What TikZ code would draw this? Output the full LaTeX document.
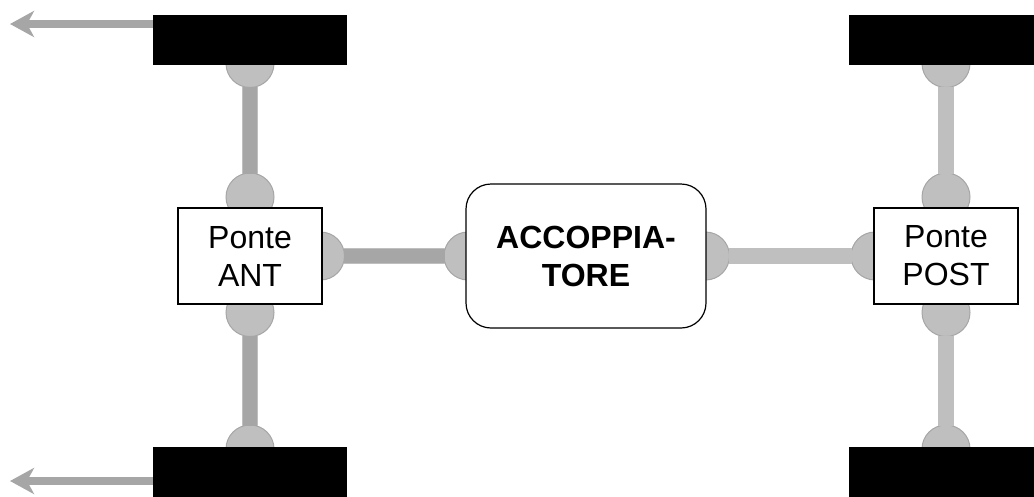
\documentclass[tikz,border=0pt]{standalone}
\usepackage{fontspec}
\setmainfont{Liberation Sans}
\usetikzlibrary{arrows.meta}
\definecolor{grigioS}{HTML}{A6A6A6}
\definecolor{grigioC}{HTML}{BFBFBF}
\tikzset{
	giunto/.style={circle, draw=grigioS, fill=grigioC, line width=1pt, minimum size=48pt, inner sep=0pt, outer sep=0pt},
	ruota/.style={rectangle, fill=black, minimum width=194pt, minimum height=50pt, inner sep=0pt},
	ponte/.style={rectangle, draw=black, fill=white, line width=1.2pt, minimum width=144pt, minimum height=96pt, inner sep=0pt, align=center, font=\fontsize{32}{38}\selectfont},
	alberoS/.style={line width=1pt, draw=grigioC, double=grigioS, double distance=14pt, shorten <=-0.5pt, shorten >=-0.5pt},
	alberoC/.style={line width=16pt, draw=grigioC, shorten <=-0.5pt, shorten >=-0.5pt},
	forza/.style={line width=8pt, draw=grigioS, -{Stealth[length=24pt, width=26pt, inset=7pt]}}
}

\begin{document}
\begin{tikzpicture}[x=1pt, y=-1pt]
	\clip (0, 0) rectangle (1034, 496);

	\node[giunto] (gAS) at (250, 63.5) {};
	\node[giunto] (gAN) at (250, 197) {};
	\node[giunto] (gAI) at (250, 312.5) {};
	\node[giunto] (gAB) at (250, 449) {};
	\node[giunto] (gAD) at (320.5, 256) {};
	\node[giunto] (gCS) at (468, 256) {};
	\node[giunto] (gCD) at (705.5, 256) {};
	\node[giunto] (gPL) at (875, 256) {};
	\node[giunto] (gPS) at (946, 63.5) {};
	\node[giunto] (gPN) at (946, 197) {};
	\node[giunto] (gPI) at (946, 312.5) {};
	\node[giunto] (gPB) at (946, 449) {};

	\node[ruota] (ruotaAS) at (250, 40) {};
	\node[ruota] (ruotaAB) at (250, 472) {};
	\node[ruota] (ruotaPS) at (946, 40) {};
	\node[ruota] (ruotaPB) at (946, 472) {};

	\node[ponte] (ant) at (250, 256) {Ponte\\ANT};
	\node[ponte] (post) at (946, 256) {Ponte\\POST};
	\node[draw=black, fill=white, line width=1.2pt, rounded corners=25pt, minimum width=240pt, minimum height=144pt, inner sep=0pt, align=center, font=\fontsize{32}{38}\selectfont\bfseries] (acc) at (586, 256) {ACCOPPIA-\\TORE};

	\draw[alberoS] (gAS) -- (gAN);
	\draw[alberoS] (gAI) -- (gAB);
	\draw[alberoS] (gAD) -- (gCS);
	\draw[alberoC] (gCD) -- (gPL);
	\draw[alberoC] (gPS) -- (gPN);
	\draw[alberoC] (gPI) -- (gPB);

	\coordinate (puntaS) at (10, 24);
	\coordinate (puntaB) at (10, 481);
	\draw[forza] (ruotaAS.west |- puntaS) -- (puntaS);
	\draw[forza] (ruotaAB.west |- puntaB) -- (puntaB);
\end{tikzpicture}
\end{document}
